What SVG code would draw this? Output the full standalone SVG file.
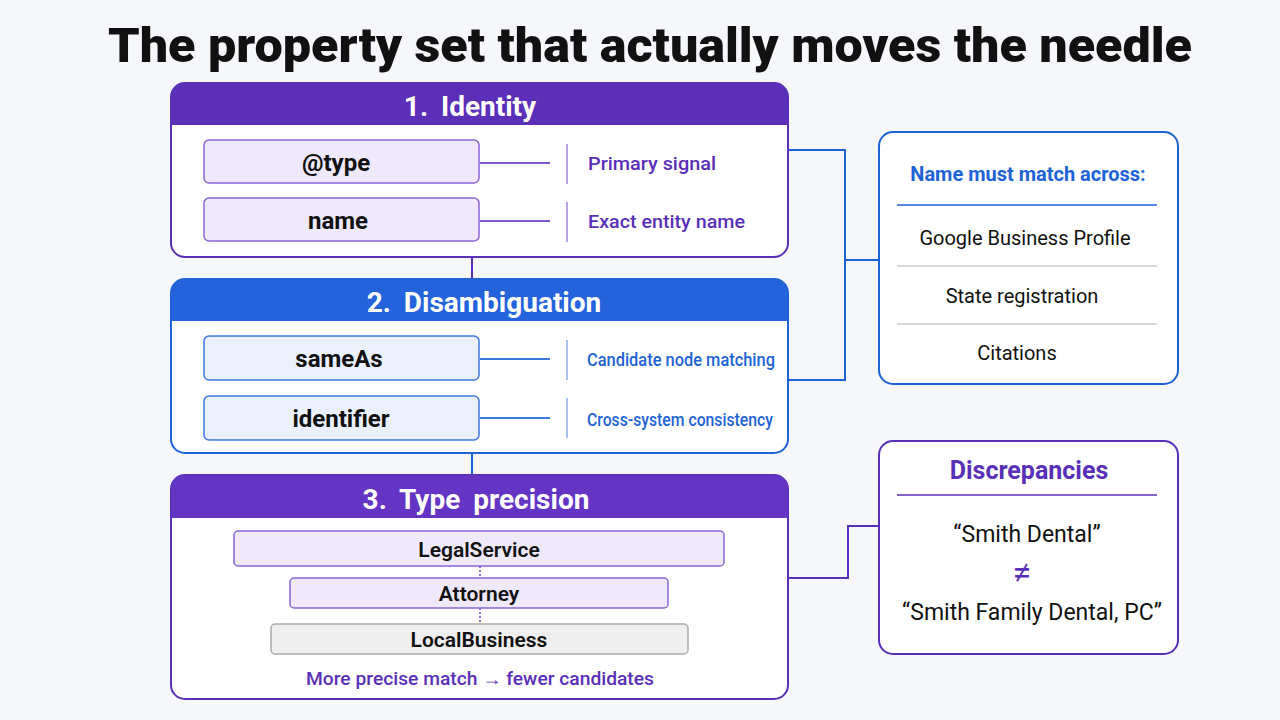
<svg xmlns="http://www.w3.org/2000/svg" width="1280" height="720" viewBox="0 0 1280 720">
<style>
text{font-family:"Roboto","Liberation Sans",sans-serif}
.title{font-size:48px;font-weight:900;fill:#111}
.hdr{font-size:28px;font-weight:700;fill:#fff;word-spacing:6px}
.prop{font-size:24px;font-weight:700;fill:#111}
.lbl{font-size:18px;font-weight:500}
.pp{fill:#5a2fb8}.bb{fill:#1e63d6}
.ptype{font-size:21px;font-weight:600;fill:#111}
.side{font-size:20px;fill:#111}
.ln{fill:none;stroke-width:2}
</style>
<rect width="1280" height="720" fill="#f6f7fb"/>
<text x="650" y="62" text-anchor="middle" class="title" textLength="1084" lengthAdjust="spacingAndGlyphs">The property set that actually moves the needle</text>
<g id="connectors" fill="none" stroke-width="2">
<path d="M472 257V280" stroke="#5a2fb8"/>
<path d="M472 453V476" stroke="#1e63d6"/>
<path d="M788 150H845V380H788M845 260H880" stroke="#1e63d6"/>
<path d="M788 578H848V526H880" stroke="#5a2fb8"/>
</g>
<g id="identity">
<rect x="171" y="83" width="617" height="174" rx="14" fill="#fff" stroke="#5a2fb8" stroke-width="2"/>
<path d="M171 125V97a14 14 0 0 1 14-14h589a14 14 0 0 1 14 14v28z" fill="#5b2fb7"/>
<text x="470" y="116" text-anchor="middle" class="hdr">1. Identity</text>
<path d="M480 163H550M480 221H550" class="ln" stroke="#7c55cf"/>
<path d="M567 144V184M567 202V242" class="ln" stroke="#b9a5e6" stroke-width="1.5"/>
<rect x="204" y="140" width="275" height="43" rx="5" fill="#efe9fb" stroke="#8a66d6" stroke-width="1.5"/>
<text x="336" y="171" text-anchor="middle" class="prop">@type</text>
<rect x="204" y="198" width="275" height="43" rx="5" fill="#efe9fb" stroke="#8a66d6" stroke-width="1.5"/>
<text x="338" y="229" text-anchor="middle" class="prop">name</text>
<text x="588" y="170" class="lbl pp" textLength="128" lengthAdjust="spacingAndGlyphs">Primary signal</text>
<text x="588" y="228" class="lbl pp" textLength="157" lengthAdjust="spacingAndGlyphs">Exact entity name</text>
</g>
<g id="disambiguation">
<rect x="171" y="279" width="617" height="174" rx="14" fill="#fff" stroke="#1e63d6" stroke-width="2"/>
<path d="M171 321V293a14 14 0 0 1 14-14h589a14 14 0 0 1 14 14v28z" fill="#2563dc"/>
<text x="484" y="312" text-anchor="middle" class="hdr">2. Disambiguation</text>
<path d="M480 359H550M480 418H550" class="ln" stroke="#3c7ae0"/>
<path d="M567 340V380M567 398V438" class="ln" stroke="#a9c2ef" stroke-width="1.5"/>
<rect x="204" y="336" width="275" height="44" rx="5" fill="#eaf1fd" stroke="#3c7ae0" stroke-width="1.5"/>
<text x="339" y="367" text-anchor="middle" class="prop">sameAs</text>
<rect x="204" y="396" width="275" height="44" rx="5" fill="#eaf1fd" stroke="#3c7ae0" stroke-width="1.5"/>
<text x="341" y="427" text-anchor="middle" class="prop">identifier</text>
<text x="587" y="366" class="lbl bb" textLength="188" lengthAdjust="spacingAndGlyphs">Candidate node matching</text>
<text x="587" y="426" class="lbl bb" textLength="186" lengthAdjust="spacingAndGlyphs">Cross-system consistency</text>
</g>
<g id="type-precision">
<rect x="171" y="475" width="617" height="224" rx="14" fill="#fff" stroke="#5a2fb8" stroke-width="2"/>
<path d="M171 518V489a14 14 0 0 1 14-14h589a14 14 0 0 1 14 14v29z" fill="#6434c4"/>
<text x="476" y="509" text-anchor="middle" class="hdr">3. Type precision</text>
<path d="M480 566V578M480 608V624" class="ln" stroke="#8f6fd6" stroke-width="1" stroke-dasharray="2 2"/>
<rect x="234" y="531" width="490" height="35" rx="4" fill="#efe9fb" stroke="#8a66d6" stroke-width="1.5"/>
<text x="479" y="557" text-anchor="middle" class="ptype">LegalService</text>
<rect x="290" y="578" width="378" height="30" rx="4" fill="#efe9fb" stroke="#8a66d6" stroke-width="1.5"/>
<text x="479" y="601" text-anchor="middle" class="ptype">Attorney</text>
<rect x="271" y="624" width="417" height="30" rx="4" fill="#efefef" stroke="#aaa" stroke-width="1.5"/>
<text x="479" y="647" text-anchor="middle" class="ptype">LocalBusiness</text>
<text x="480" y="685" text-anchor="middle" class="lbl pp" textLength="348" lengthAdjust="spacingAndGlyphs">More precise match → fewer candidates</text>
</g>
<g id="name-match">
<rect x="879" y="132" width="299" height="252" rx="14" fill="#fff" stroke="#1e63d6" stroke-width="2"/>
<text x="1028" y="181" text-anchor="middle" font-size="20" font-weight="700" class="bb">Name must match across:</text>
<path d="M897 205H1157" stroke="#1e63d6" stroke-width="1.5"/>
<path d="M897 266H1157M897 324H1157" stroke="#ccc" stroke-width="1.5"/>
<text x="1025" y="245" text-anchor="middle" class="side">Google Business Profile</text>
<text x="1022" y="303" text-anchor="middle" class="side">State registration</text>
<text x="1017" y="360" text-anchor="middle" class="side">Citations</text>
</g>
<g id="discrepancies">
<rect x="879" y="441" width="299" height="213" rx="14" fill="#fff" stroke="#5a2fb8" stroke-width="2"/>
<text x="1029" y="479" text-anchor="middle" font-size="25" font-weight="700" class="pp">Discrepancies</text>
<path d="M897 495H1157" stroke="#5a2fb8" stroke-width="1.5"/>
<text x="1027" y="542" text-anchor="middle" font-size="23" fill="#111">“Smith Dental”</text>
<text x="1022" y="584" text-anchor="middle" font-size="34" class="pp">≠</text>
<text x="1032" y="620" text-anchor="middle" font-size="23" fill="#111">“Smith Family Dental, PC”</text>
</g>
</svg>
